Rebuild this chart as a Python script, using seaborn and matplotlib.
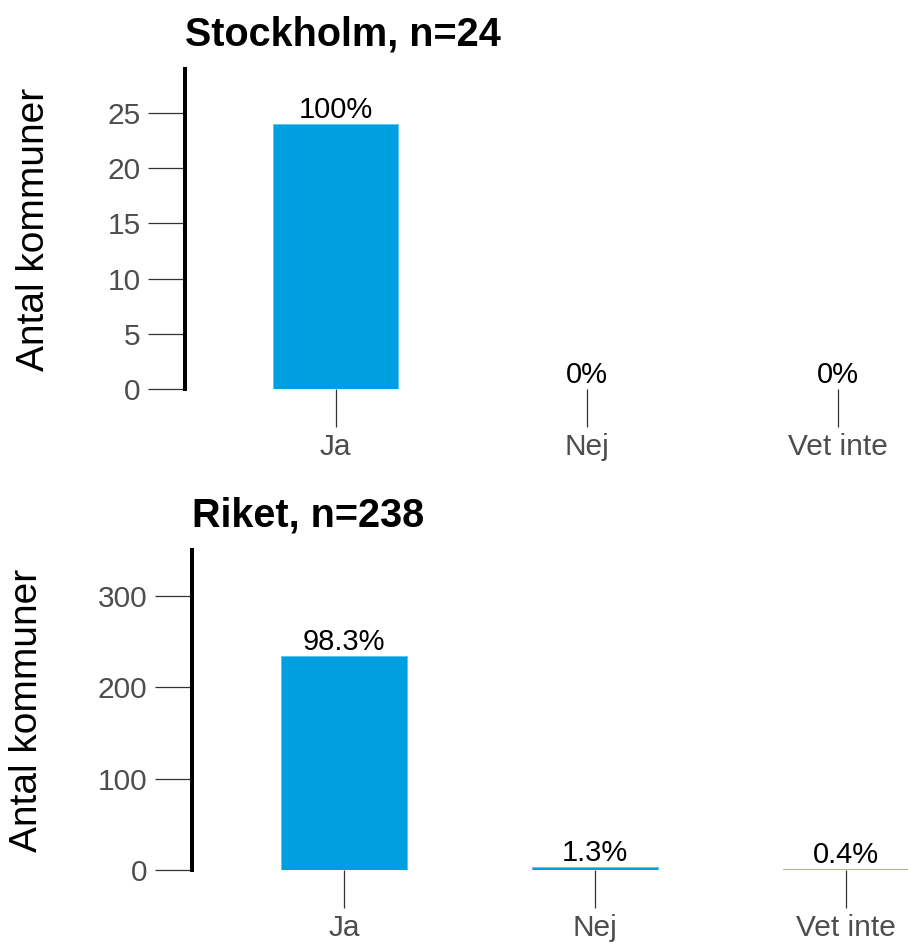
import matplotlib
matplotlib.use("Agg")
import matplotlib.pyplot as plt
import seaborn as sns

# --- data ---
categories = ["Ja", "Nej", "Vet inte"]
stockholm_counts = [24, 0, 0]
riket_counts = [234, 3, 1]
panel_titles = ["Stockholm, n=24", "Riket, n=238"]
stockholm_yticks = [0, 5, 10, 15, 20, 25]
riket_yticks = [0, 100, 200, 300]

BAR_COLOR = "#009FE0"
TICK_GREY = "#4D4D4D"

sns.set_style("white")
plt.rcParams["font.family"] = ["Liberation Sans", "DejaVu Sans"]

fig = plt.figure(figsize=(9.08, 9.44), dpi=100)

# axes placed in figure fractions (left, bottom, width, height)
ax_top = fig.add_axes([185 / 908, 1 - 389 / 944, (908 - 185) / 908, 320 / 944])
ax_bot = fig.add_axes([192 / 908, 1 - 870 / 944, (908 - 192) / 908, 320 / 944])


def pct_label(v, total):
    p = 100 * v / total
    return f"{p:.1f}".rstrip("0").rstrip(".") + "%"


def draw_panel(ax, counts, title, yticks, ymax, xlim, label_x):
    sns.barplot(x=categories, y=counts, color=BAR_COLOR, saturation=1,
                width=0.5, ax=ax, order=categories,
                edgecolor="#5EC3EC", linewidth=0.6)
    total = sum(counts)
    ax.bar_label(ax.containers[0], labels=[pct_label(v, total) for v in counts],
                 padding=0, fontsize=21, color="black")

    ax.set_ylim(0, ymax)
    ax.set_xlim(*xlim)
    ax.set_yticks(yticks)
    for s in ["top", "right", "bottom"]:
        ax.spines[s].set_visible(False)
    ax.spines["left"].set_linewidth(2.9)
    ax.spines["left"].set_color("black")

    ax.tick_params(axis="both", which="major", direction="out", length=27,
                   width=0.9, color="#333333", labelcolor=TICK_GREY,
                   labelsize=21.5, pad=5, left=True, bottom=True)

    ax.set_ylabel("Antal kommuner", fontsize=28, color="black")
    ax.yaxis.set_label_coords(label_x, 0.5)
    ax.set_xlabel("")
    ax.set_title(title, loc="left", fontsize=28.5, fontweight="bold",
                 color="black", pad=17)


draw_panel(ax_top, stockholm_counts, panel_titles[0], stockholm_yticks, 29,
           (-0.6, 2.28), -0.184)
draw_panel(ax_bot, riket_counts, panel_titles[1], riket_yticks, 350,
           (-0.605, 2.247), -0.205)

fig.savefig("out.png", dpi=100, facecolor="white")
